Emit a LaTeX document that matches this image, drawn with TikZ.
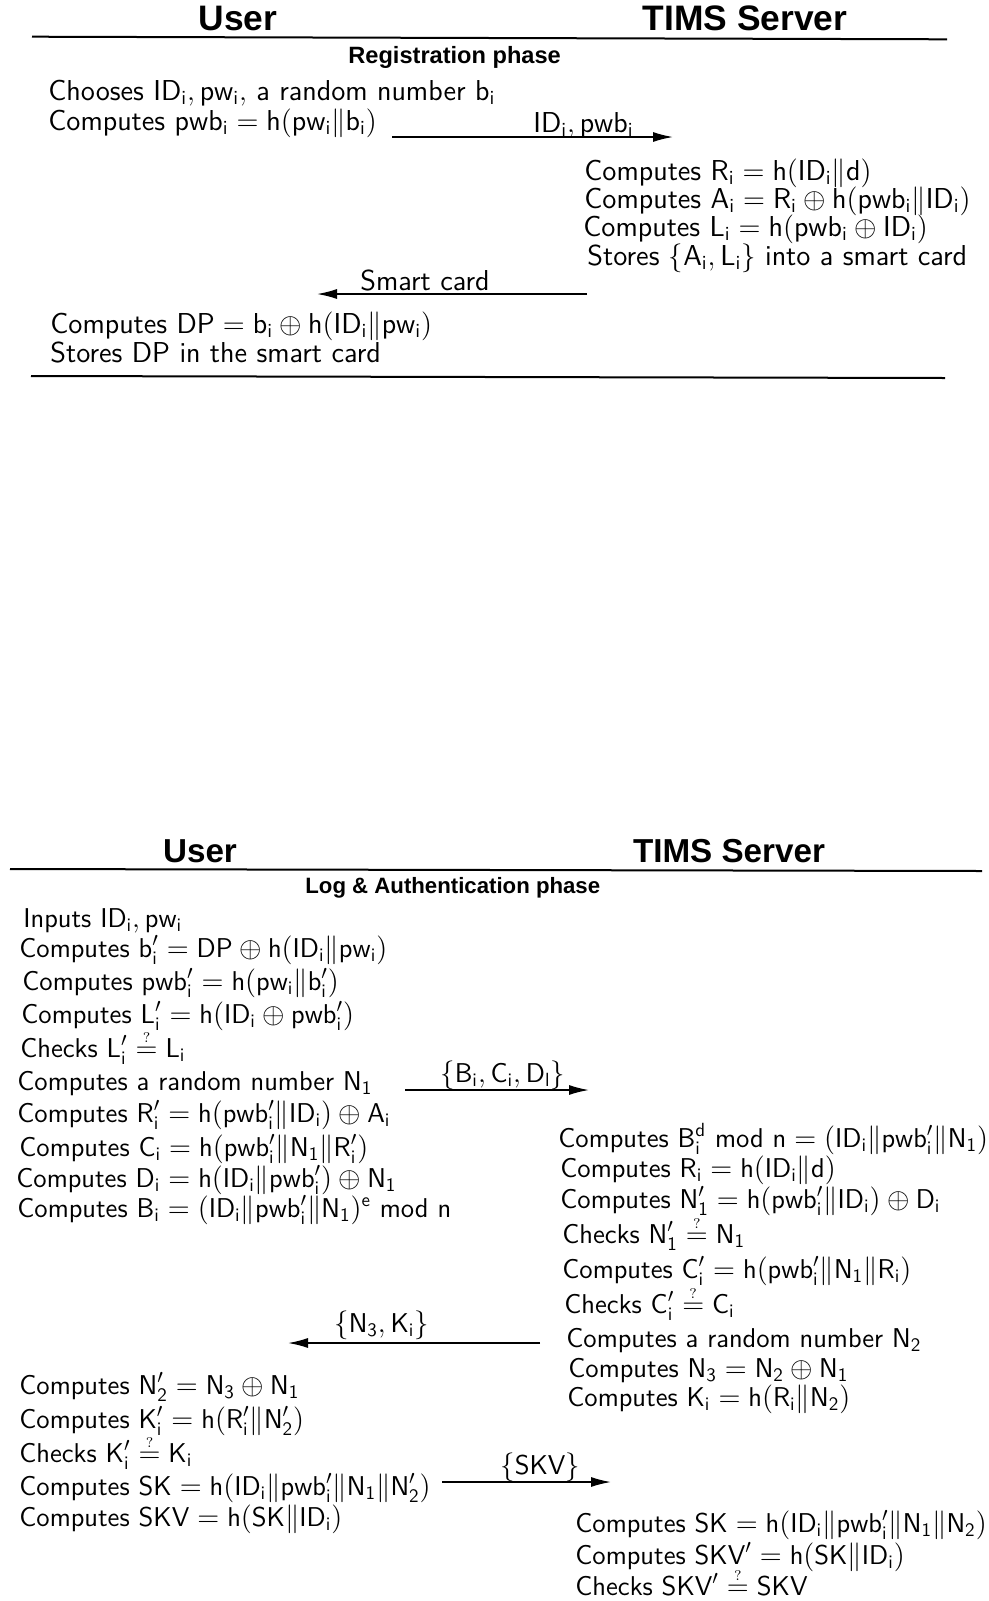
\documentclass[tikz,border=0pt]{standalone}
\usepackage{fontspec}
\newfontfamily\hdrfont{Liberation Sans}
\usetikzlibrary{arrows.meta}
\newcommand\ms[1]{\ensuremath{\mathsf{#1}}}
\newcommand\qeq{\stackrel{\scriptscriptstyle ?}{=}}
\begin{document}
\begin{tikzpicture}[x=0.5pt,y=-0.5pt,
  txt/.style={anchor=base west, inner sep=0pt, font=\sffamily\fontsize{14.4}{17}\selectfont},
  txtb/.style={anchor=base west, inner sep=0pt, font=\sffamily\fontsize{13.6}{16}\selectfont},
  hdr/.style={anchor=base, inner sep=0pt, font=\hdrfont\bfseries\fontsize{17.7}{20}\selectfont},
  hdrb/.style={anchor=base, inner sep=0pt, font=\hdrfont\bfseries\fontsize{16.6}{19}\selectfont},
  phase/.style={anchor=base west, inner sep=0pt, font=\hdrfont\bfseries\fontsize{11.8}{14}\selectfont},
  phaseb/.style={anchor=base west, inner sep=0pt, font=\hdrfont\bfseries\fontsize{11.1}{14}\selectfont},
  rulel/.style={line width=1pt},
  msg/.style={line width=0.75pt, -{Latex[length=10pt,width=5pt]}}]
\fill[white] (0,0) rectangle (989,1601);
\useasboundingbox (0,0) rectangle (989,1601);

% ---------- Registration phase ----------
\node[hdr] (u1) at (238,30) {User};
\node[hdr] (s1) at (745,30) {TIMS Server};
\coordinate (r1a) at (32,36.7);
\coordinate (r1b) at (947,39.3);
\draw[rulel] (r1a) -- (r1b);
\node[phase] (ph1) at (348,63) {Registration phase};

\node[txt] (t1) at (48,100) {Chooses \ms{ID_i, pw_i,} a random number \ms{b_i}};
\node[txt] (t2) at (48,130) {Computes \ms{pwb_i = h(pw_i\|b_i)}};
\coordinate (a1s) at (392,137);
\coordinate (a1e) at (673,137);
\draw[msg] (a1s) -- (a1e);
\node[txt] (l1) at (533,132) {\ms{ID_i, pwb_i}};

\node[txt] (t3) at (584,180) {Computes \ms{R_i = h(ID_i\|d)}};
\node[txt] (t4) at (584,208) {Computes \ms{A_i = R_i \oplus h(pwb_i\|ID_i)}};
\node[txt] (t5) at (583,236) {Computes \ms{L_i = h(pwb_i \oplus ID_i)}};
\node[txt] (t6) at (587,265) {Stores \ms{\{A_i, L_i\}} into a smart card};

\coordinate (a2s) at (587,294);
\coordinate (a2e) at (317,294);
\draw[msg] (a2s) -- (a2e);
\node[txt] (l2) at (360,290) {Smart card};

\node[txt] (t7) at (50,333) {Computes \ms{DP = b_i \oplus h(ID_i\|pw_i)}};
\node[txt] (t8) at (50,362) {Stores DP in the smart card};
\coordinate (r2a) at (31,376);
\coordinate (r2b) at (945,378);
\draw[rulel] (r2a) -- (r2b);

% ---------- Log & Authentication phase ----------
\node[hdrb] (u2) at (200,862) {User};
\node[hdrb] (s2) at (729,862) {TIMS Server};
\coordinate (r3a) at (10,869);
\coordinate (r3b) at (982,871);
\draw[rulel] (r3a) -- (r3b);
\node[phaseb] (ph2) at (305,893) {Log \& Authentication phase};

\node[txtb] (b1) at (23,927) {Inputs \ms{ID_i, pw_i}};
\node[txtb] (b2) at (19,957) {Computes \ms{b'_i = DP \oplus h(ID_i\|pw_i)}};
\node[txtb] (b3) at (22,990) {Computes \ms{pwb'_i = h(pw_i\|b'_i)}};
\node[txtb] (b4) at (21,1023) {Computes \ms{L'_i = h(ID_i \oplus pwb'_i)}};
\node[txtb] (b5) at (20,1057) {Checks \ms{L'_i \qeq L_i}};
\node[txtb] (b6) at (17,1090) {Computes a random number \ms{N_1}};
\node[txtb] (b7) at (17,1122) {Computes \ms{R'_i = h(pwb'_i\|ID_i) \oplus A_i}};
\node[txtb] (b8) at (19,1156) {Computes \ms{C_i = h(pwb'_i\|N_1\|R'_i)}};
\node[txtb] (b9) at (16,1187) {Computes \ms{D_i = h(ID_i\|pwb'_i) \oplus N_1}};
\node[txtb] (b10) at (17,1217) {Computes \ms{B_i = (ID_i\|pwb'_i\|N_1)^e} mod n};

\coordinate (a3s) at (405,1090);
\coordinate (a3e) at (589,1090);
\draw[msg] (a3s) -- (a3e);
\node[txtb] (l3) at (440,1082) {\ms{\{B_i, C_i, D_l\}}};

\node[txtb] (c1) at (558,1147) {Computes \ms{B_i^d} mod \ms{n = (ID_i\|pwb'_i\|N_1)}};
\node[txtb] (c2) at (560,1177) {Computes \ms{R_i = h(ID_i\|d)}};
\node[txtb] (c3) at (560,1208) {Computes \ms{N'_1 = h(pwb'_i\|ID_i) \oplus D_i}};
\node[txtb] (c4) at (562,1243) {Checks \ms{N'_1 \qeq N_1}};
\node[txtb] (c5) at (562,1278) {Computes \ms{C'_i = h(pwb'_i\|N_1\|R_i)}};
\node[txtb] (c6) at (564,1313) {Checks \ms{C'_i \qeq C_i}};
\node[txtb] (c7) at (566,1347) {Computes a random number \ms{N_2}};
\node[txtb] (c8) at (568,1377) {Computes \ms{N_3 = N_2 \oplus N_1}};
\node[txtb] (c9) at (567,1406) {Computes \ms{K_i = h(R_i\|N_2)}};

\coordinate (a4s) at (540,1343);
\coordinate (a4e) at (288,1343);
\draw[msg] (a4s) -- (a4e);
\node[txtb] (l4) at (334,1332) {\ms{\{N_3, K_i\}}};

\node[txtb] (d1) at (19,1394) {Computes \ms{N'_2 = N_3 \oplus N_1}};
\node[txtb] (d2) at (19,1428) {Computes \ms{K'_i = h(R'_i\|N'_2)}};
\node[txtb] (d3) at (19,1462) {Checks \ms{K'_i \qeq K_i}};
\node[txtb] (d4) at (19,1495) {Computes \ms{SK = h(ID_i\|pwb'_i\|N_1\|N'_2)}};
\node[txtb] (d5) at (19,1526) {Computes \ms{SKV = h(SK\|ID_i)}};

\coordinate (a5s) at (442,1482);
\coordinate (a5e) at (611,1482);
\draw[msg] (a5s) -- (a5e);
\node[txtb] (l5) at (500,1474) {\ms{\{SKV\}}};

\node[txtb] (e1) at (575,1532) {Computes \ms{SK = h(ID_i\|pwb'_i\|N_1\|N_2)}};
\node[txtb] (e2) at (575,1564) {Computes \ms{SKV' = h(SK\|ID_i)}};
\node[txtb] (e3) at (575,1595) {Checks \ms{SKV' \qeq SKV}};
\end{tikzpicture}
\end{document}
